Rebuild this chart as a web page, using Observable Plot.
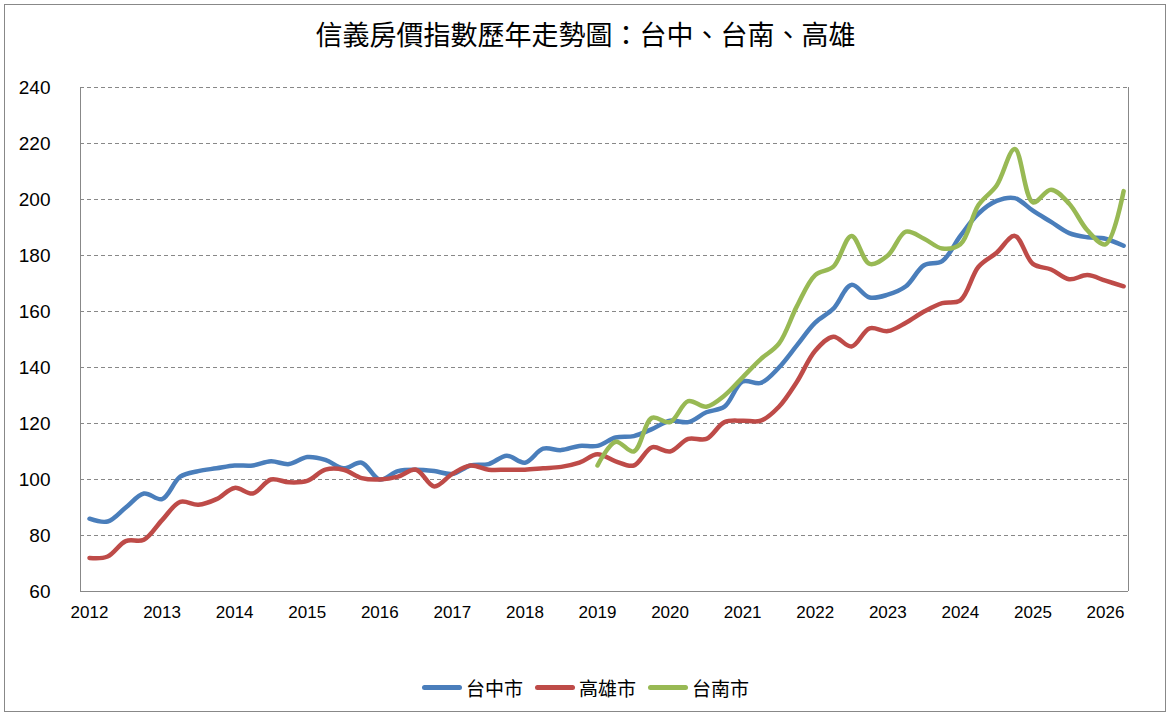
<!DOCTYPE html>
<html><head><meta charset="utf-8">
<script src="https://cdn.jsdelivr.net/npm/d3@7"></script>
<script src="https://cdn.jsdelivr.net/npm/@observablehq/plot@0.6"></script>
<style>
body{margin:0;background:#fff;font-family:"Noto Sans CJK TC",sans-serif;}
#box{position:absolute;left:4px;top:4px;width:1160px;height:706px;border:1px solid #888;}
#title{position:absolute;left:0;top:14px;width:1171px;text-align:center;font-size:27px;color:#000;}
#chart{position:absolute;left:0;top:60px;}
#legend{position:absolute;left:0;top:668px;width:1171px;text-align:center;font-size:19px;}
#legend span{margin:0 6px;display:inline-flex;align-items:center;}
#legend i{display:inline-block;width:40px;height:5px;border-radius:3px;margin-right:4px;}
</style></head><body>
<div id="box"></div>
<div id="title">信義房價指數歷年走勢圖：台中、台南、高雄</div>
<div id="chart"></div>
<div id="legend"><span><i style="background:#4a7ebb"></i>台中市</span><span><i style="background:#be4b48"></i>高雄市</span><span><i style="background:#98b954"></i>台南市</span></div>
<script>
const taichung=[86,85,90,95,93,101,103,104,105,105,106.5,105.5,108,107,104,106,100,103,103.5,103,102,105,105.5,108.5,106,111,110.5,112,112,115,115.5,118,121,120.5,124,126,135,134.5,140,148,156,161,169.5,165,166,169,176.5,178,187,195,199.5,200.5,196,192,188,186.5,186,183.5];
const kaohsiung=[72,72.5,78,78.5,85.5,92,91,93,97,95,100,99,99.5,103.5,103.5,100.5,100,101,103.5,97.5,102,105,103.5,103.5,103.5,104,104.5,106,109,106.5,105,111.5,110,114.5,114.5,120.5,121,121,126,135,146,151,147.5,154,153,156,160,163,164,176,181,187,177,175,171.5,173,171,169];
const tainan=[105,113.5,110,122,120.5,128,126,130,136.5,143,148.5,162,173,176,187,177,180,188.5,186,182.5,184,198,205,218,199,203.5,198.5,189,184,203];
const years=d3.range(2012,2027);
const yTicks=d3.range(60,241,20);
const toRows=(arr,start,name)=>arr.map((v,i)=>({t:start+i*0.25,v,name}));
const rows=[...toRows(taichung,2012,"台中市"),...toRows(kaohsiung,2012,"高雄市"),...toRows(tainan,2019,"台南市")];
const colors={"台中市":"#4a7ebb","高雄市":"#be4b48","台南市":"#98b954"};
const p=Plot.plot({
  width:1171,height:585,marginLeft:80,marginRight:43,marginTop:27,marginBottom:54,
  style:{fontFamily:"Liberation Sans, Arial, sans-serif",fontSize:"17px",color:"#000",background:"transparent"},
  x:{domain:[2011.876,2026.317],label:null},
  y:{domain:[60,240],label:null},
  marks:[
    Plot.ruleY(d3.range(80,241,20),{stroke:"#888",strokeDasharray:"4,3",strokeWidth:1}),
    Plot.ruleX([2011.876],{stroke:"#888"}),
    Plot.ruleX([2026.317],{stroke:"#888"}),
    Plot.ruleY([60],{stroke:"#888"}),
    Plot.axisX({ticks:years,tickFormat:d=>String(d),tickSize:0,tickPadding:14,fontSize:17,label:null}),
    Plot.axisY({ticks:yTicks,tickSize:0,tickPadding:30,fontSize:19,label:null}),
    Plot.lineY(rows,{x:"t",y:"v",z:"name",stroke:d=>colors[d.name],strokeWidth:4.5,curve:"catmull-rom",strokeLinecap:"round"})
  ]
});
document.getElementById("chart").appendChild(p);
</script></body></html>
